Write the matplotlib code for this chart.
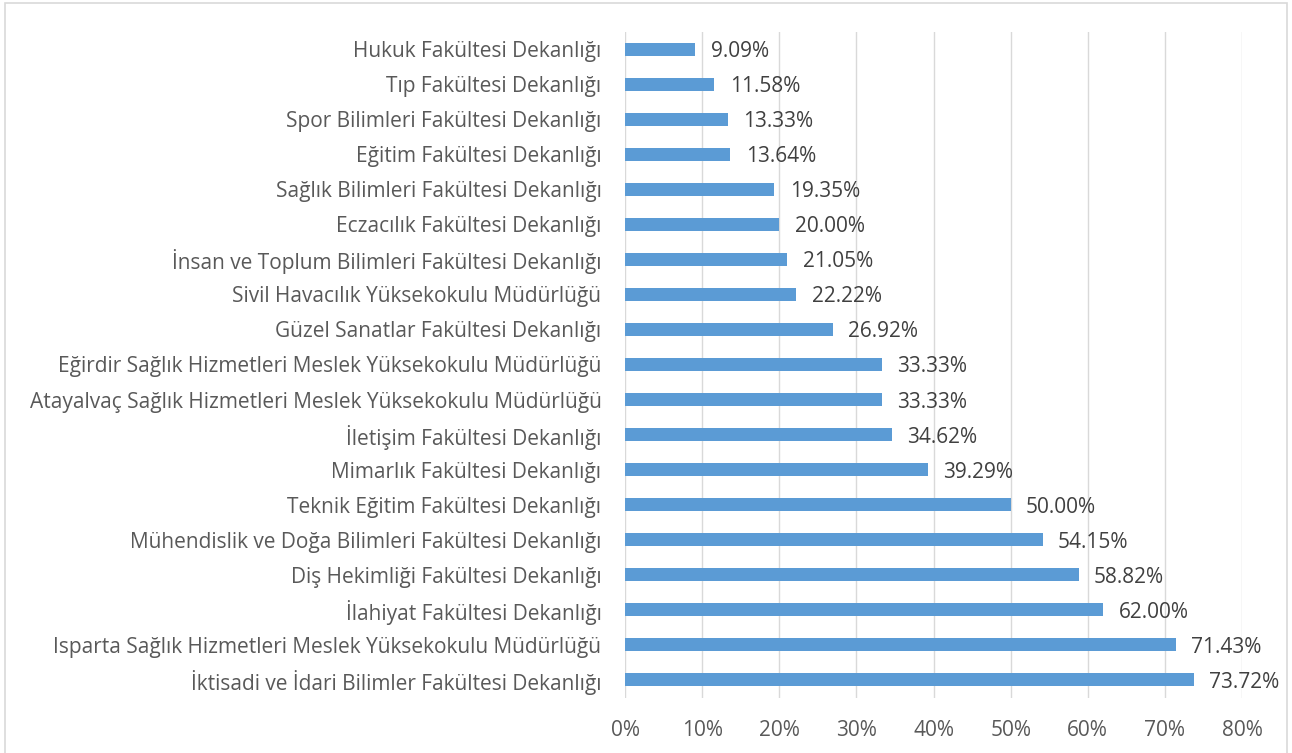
import matplotlib.pyplot as plt
import numpy as np
from matplotlib.patches import Rectangle
from matplotlib.ticker import PercentFormatter

plt.rcParams['font.family'] = ['Open Sans', 'DejaVu Sans']

units = [
    "İktisadi ve İdari Bilimler Fakültesi Dekanlığı",
    "Isparta Sağlık Hizmetleri Meslek Yüksekokulu Müdürlüğü",
    "İlahiyat Fakültesi Dekanlığı",
    "Diş Hekimliği Fakültesi Dekanlığı",
    "Mühendislik ve Doğa Bilimleri Fakültesi Dekanlığı",
    "Teknik Eğitim Fakültesi Dekanlığı",
    "Mimarlık Fakültesi Dekanlığı",
    "İletişim Fakültesi Dekanlığı",
    "Atayalvaç Sağlık Hizmetleri Meslek Yüksekokulu Müdürlüğü",
    "Eğirdir Sağlık Hizmetleri Meslek Yüksekokulu Müdürlüğü",
    "Güzel Sanatlar Fakültesi Dekanlığı",
    "Sivil Havacılık Yüksekokulu Müdürlüğü",
    "İnsan ve Toplum Bilimleri Fakültesi Dekanlığı",
    "Eczacılık Fakültesi Dekanlığı",
    "Sağlık Bilimleri Fakültesi Dekanlığı",
    "Eğitim Fakültesi Dekanlığı",
    "Spor Bilimleri Fakültesi Dekanlığı",
    "Tıp Fakültesi Dekanlığı",
    "Hukuk Fakültesi Dekanlığı",
]
rates = [73.72, 71.43, 62.00, 58.82, 54.15, 50.00, 39.29, 34.62, 33.33, 33.33,
         26.92, 22.22, 21.05, 20.00, 19.35, 13.64, 13.33, 11.58, 9.09]

text_col = '#595959'
bar_col = '#5B9BD5'
fs = 15

fig = plt.figure(figsize=(12.92, 7.53), dpi=100)
ax = fig.add_axes([625/1292, 1-697.5/753, (1242-625)/1292, 666/753])

y = np.arange(len(units))
ax.barh(y, rates, height=0.37, color=bar_col, zorder=3)
for yi, v in zip(y, rates):
    ax.text(v + 2.0, yi, f"{v:.2f}%", va='center_baseline', ha='left',
            fontsize=fs, color='#404040')

ax.set_xlim(0, 80)
ax.set_ylim(-0.5, len(units) - 0.5)
ax.set_xticks(np.arange(0, 81, 10))
ax.xaxis.set_major_formatter(PercentFormatter(decimals=0))
ax.set_yticks(y)
ax.set_yticklabels(units)
ax.tick_params(axis='both', length=0, labelsize=fs, colors=text_col)
ax.tick_params(axis='y', pad=17)
ax.tick_params(axis='x', pad=16)
ax.grid(axis='x', color='#D9D9D9', linewidth=1, zorder=0)
for s in ax.spines.values():
    s.set_visible(False)

fig.patches.append(Rectangle((0.004, -0.01), 0.992, 1.006, transform=fig.transFigure,
                             fill=False, edgecolor='#D9D9D9', linewidth=1.2))

fig.savefig('out.png', dpi=100)
